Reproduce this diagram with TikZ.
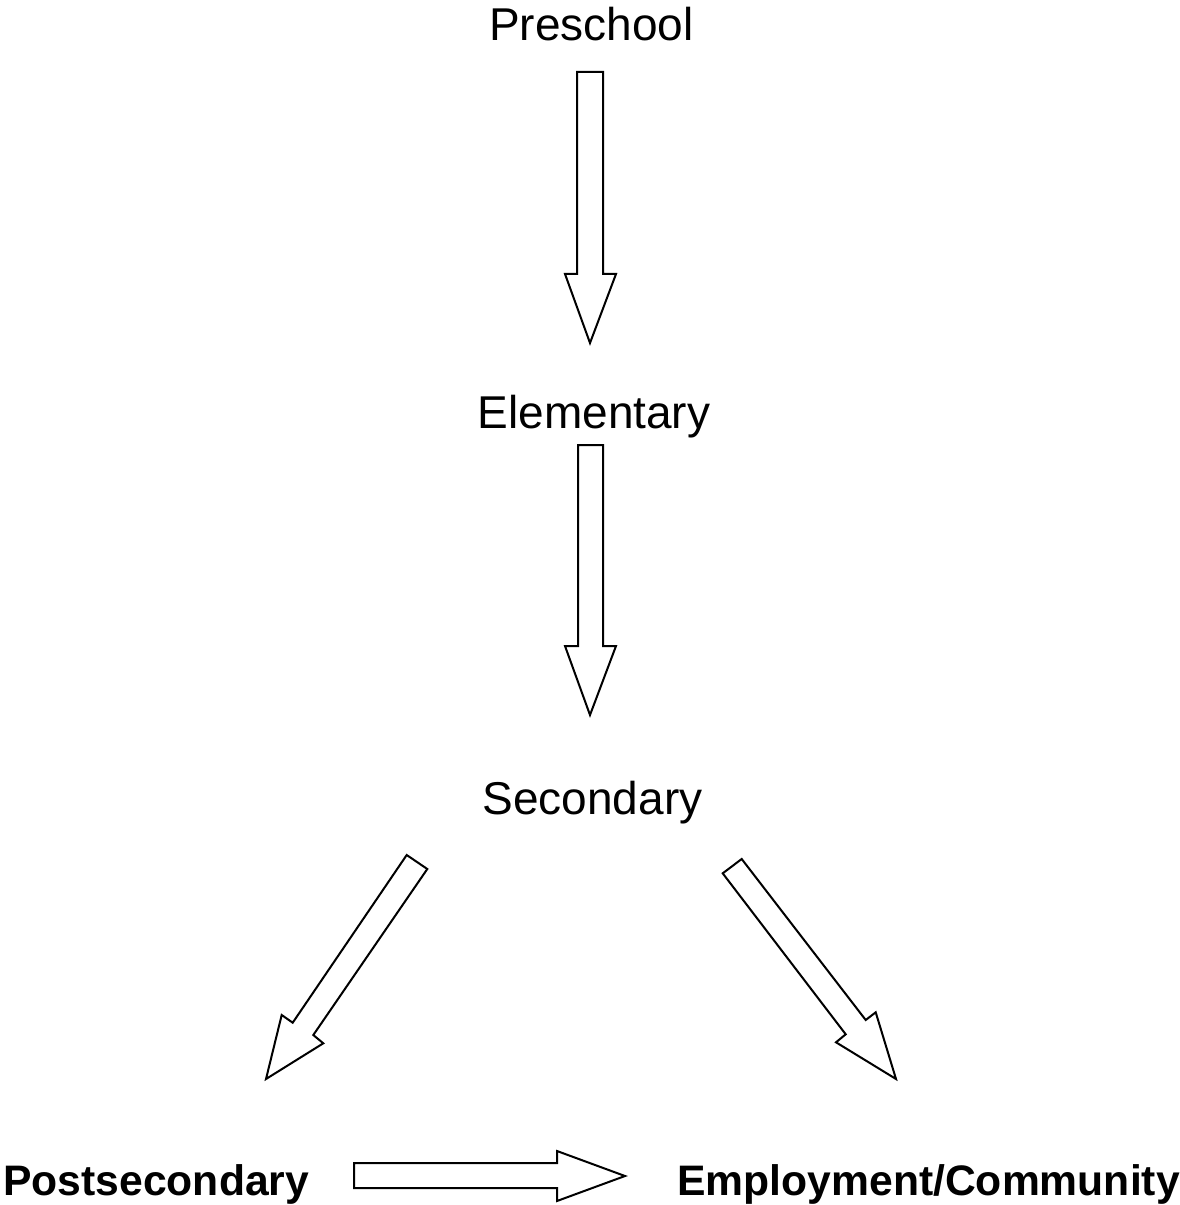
\documentclass[tikz,border=0pt]{standalone}
\usepackage{fontspec}
\setmainfont{Liberation Sans}
\begin{document}
\begin{tikzpicture}[x=0.75pt,y=-0.75pt,
  lvl/.style={inner sep=0pt,anchor=base,font=\fontsize{34.5}{40}\selectfont},
  endlvl/.style={inner sep=0pt,anchor=base west,font=\fontsize{32}{38}\selectfont\bfseries},
  blockarrow/.style={draw=black,fill=white,line width=1.5pt,line join=miter}]
\useasboundingbox[fill=white] (0,0) rectangle (1180,1205);
\node[lvl] (pre) at (591.5,41) {Preschool};
\node[lvl] (ele) at (594,428) {Elementary};
\node[lvl] (sec) at (592.5,814) {Secondary};
\node[endlvl] (post) at (3,1195) {Postsecondary};
\node[endlvl] (emp) at (677,1195) {Employment/Community};
% Preschool -> Elementary
\draw[blockarrow] (577,72) -- (603,72) -- (603,274) -- (616,274) -- (590,343)
  -- (565,274) -- (577,274) -- cycle;
% Elementary -> Secondary
\draw[blockarrow] (578,445) -- (603,445) -- (603,646) -- (616,646) -- (590,715)
  -- (565,646) -- (578,646) -- cycle;
% Secondary -> Postsecondary
\draw[blockarrow] (406.7,855) -- (427.3,869) -- (313.3,1035) -- (323.3,1043.3)
  -- (266,1079) -- (281.7,1015) -- (292.7,1022.7) -- cycle;
% Secondary -> Employment/Community
\draw[blockarrow] (741.7,859) -- (722.7,873.3) -- (845.7,1034.3) -- (836,1042.3)
  -- (896,1079) -- (875.7,1012.3) -- (865.7,1020) -- cycle;
% Postsecondary -> Employment/Community
\draw[blockarrow] (354,1163) -- (557,1163) -- (557,1151) -- (625,1176)
  -- (557,1201) -- (557,1188) -- (354,1188) -- cycle;
\end{tikzpicture}
\end{document}
